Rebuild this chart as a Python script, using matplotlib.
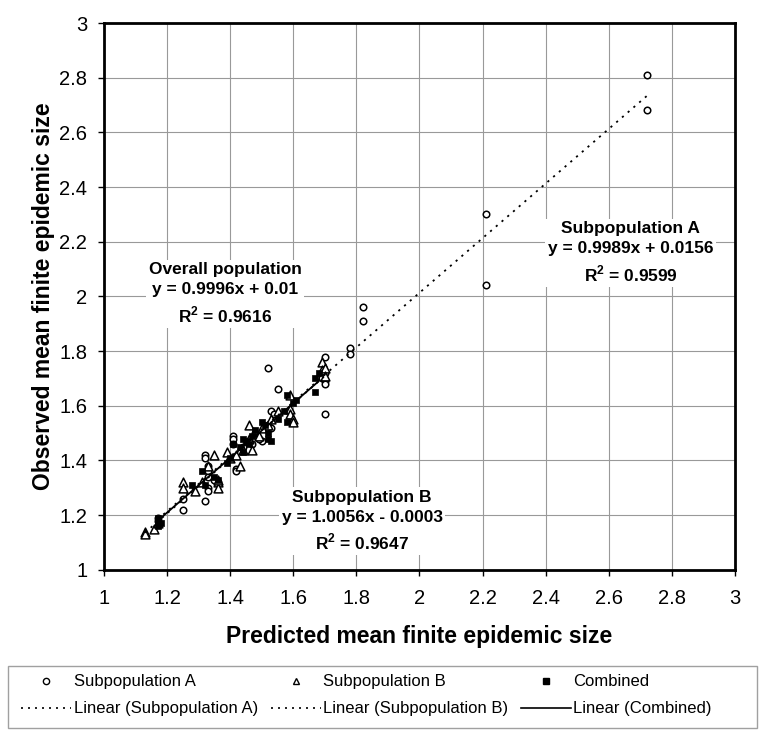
import numpy as np
import matplotlib
matplotlib.use('Agg')
import matplotlib.pyplot as plt
from matplotlib.lines import Line2D
from matplotlib.patches import Rectangle

plt.rcParams['font.family'] = ['Liberation Sans', 'DejaVu Sans']
plt.rcParams['mathtext.fontset'] = 'custom'
plt.rcParams['mathtext.rm'] = 'Liberation Sans'
plt.rcParams['mathtext.bf'] = 'Liberation Sans:bold'

# Subpopulation A (open circles)
a_x = [2.72, 2.72, 2.21, 2.21, 1.82, 1.82, 1.78, 1.78, 1.70, 1.70, 1.70, 1.70, 1.70, 1.69,
       1.52, 1.55, 1.53, 1.54, 1.52, 1.53, 1.50, 1.49, 1.47, 1.41, 1.41, 1.42, 1.32, 1.32,
       1.33, 1.33, 1.33, 1.33, 1.33, 1.32, 1.25, 1.25, 1.42, 1.41, 1.44, 1.46, 1.48, 1.36,
       1.35, 1.17, 1.17]
a_y = [2.81, 2.68, 2.30, 2.04, 1.96, 1.91, 1.81, 1.79, 1.78, 1.72, 1.69, 1.68, 1.57, 1.70,
       1.74, 1.66, 1.58, 1.57, 1.53, 1.52, 1.47, 1.48, 1.46, 1.49, 1.48, 1.37, 1.42, 1.41,
       1.38, 1.36, 1.34, 1.30, 1.29, 1.25, 1.26, 1.22, 1.36, 1.46, 1.45, 1.47, 1.50, 1.32,
       1.33, 1.18, 1.19]

# Subpopulation B (open triangles)
b_x = [1.13, 1.13, 1.16, 1.17, 1.25, 1.25, 1.29, 1.31, 1.35, 1.33, 1.36, 1.36, 1.36, 1.40,
       1.43, 1.44, 1.46, 1.46, 1.47, 1.52, 1.53, 1.59, 1.59, 1.60, 1.60, 1.59, 1.69, 1.69,
       1.70, 1.70, 1.49, 1.50, 1.39, 1.55, 1.42]
b_y = [1.14, 1.13, 1.15, 1.17, 1.32, 1.30, 1.29, 1.32, 1.42, 1.38, 1.32, 1.30, 1.33, 1.41,
       1.38, 1.44, 1.53, 1.48, 1.44, 1.53, 1.55, 1.59, 1.57, 1.55, 1.54, 1.64, 1.76, 1.73,
       1.74, 1.71, 1.49, 1.52, 1.43, 1.58, 1.42]

# Combined (filled squares)
c_x = [1.17, 1.17, 1.18, 1.17, 1.28, 1.31, 1.32, 1.35, 1.36, 1.40, 1.41, 1.43, 1.44, 1.45,
       1.47, 1.48, 1.50, 1.51, 1.52, 1.53, 1.52, 1.55, 1.57, 1.58, 1.58, 1.60, 1.61, 1.67,
       1.68, 1.67, 1.46, 1.44, 1.39]
c_y = [1.19, 1.18, 1.17, 1.16, 1.31, 1.36, 1.31, 1.34, 1.33, 1.41, 1.46, 1.45, 1.48, 1.47,
       1.49, 1.51, 1.54, 1.53, 1.48, 1.47, 1.50, 1.55, 1.58, 1.64, 1.54, 1.61, 1.62, 1.70,
       1.72, 1.65, 1.46, 1.43, 1.39]

# trendline coefficients (slope, intercept) as printed on the chart
fit_a = (0.9989, 0.0156)
fit_b = (1.0056, -0.0003)
fit_c = (0.9996, 0.01)

ticks = [1, 1.2, 1.4, 1.6, 1.8, 2, 2.2, 2.4, 2.6, 2.8, 3]
tick_labels = ['1', '1.2', '1.4', '1.6', '1.8', '2', '2.2', '2.4', '2.6', '2.8', '3']

fig = plt.figure(figsize=(7.68, 7.42), dpi=100)
ax = fig.add_axes([0.1354, 0.232, 0.8216, 0.737])

ax.grid(True, color='#999999', linewidth=0.8)
ax.set_axisbelow(True)

ax.scatter(a_x, a_y, s=22, marker='o', facecolors='white', edgecolors='black',
           linewidths=1.1, zorder=3)
ax.scatter(b_x, b_y, s=40, marker='^', facecolors='white', edgecolors='black',
           linewidths=1.1, zorder=3)
ax.scatter(c_x, c_y, s=22, marker='s', facecolors='black', edgecolors='black',
           linewidths=0.5, zorder=4)

def trend(xs, fit):
    xr = np.array([min(xs), max(xs)])
    return xr, fit[0] * xr + fit[1]

xa, ya = trend(a_x, fit_a)
xb, yb = trend(b_x, fit_b)
xc, yc = trend(c_x, fit_c)
ax.plot(xa, ya, color='black', linestyle=(0, (1.2, 3)), linewidth=1.3, zorder=5)
ax.plot(xb, yb, color='black', linestyle=(0, (1.2, 3)), linewidth=1.3, zorder=5)
ax.plot(xc, yc, color='black', linestyle='-', linewidth=1.3, zorder=5)

box = dict(facecolor='white', edgecolor='none', pad=2)
ax.text(1.384, 2.01, 'Overall population\ny = 0.9996x + 0.01\nR$^{\\bf 2}$ = 0.9616',
        ha='center', va='center', fontsize=12.5, fontweight='bold', linespacing=1.4,
        bbox=box, zorder=6)
ax.text(2.67, 2.16, 'Subpopulation A\ny = 0.9989x + 0.0156\nR$^{\\bf 2}$ = 0.9599',
        ha='center', va='center', fontsize=12.5, fontweight='bold', linespacing=1.4,
        bbox=box, zorder=6)
ax.text(1.818, 1.177, 'Subpopulation B\ny = 1.0056x - 0.0003\nR$^{\\bf 2}$ = 0.9647',
        ha='center', va='center', fontsize=12.5, fontweight='bold', linespacing=1.4,
        bbox=box, zorder=6)

ax.set_xlim(1, 3)
ax.set_ylim(1, 3)
ax.set_xticks(ticks)
ax.set_xticklabels(tick_labels)
ax.set_yticks(ticks)
ax.set_yticklabels(tick_labels)
ax.tick_params(direction='out', length=4, width=1, labelsize=14.5)
ax.tick_params(axis='x', pad=10)
ax.tick_params(axis='y', pad=8)
for sp in ax.spines.values():
    sp.set_linewidth(2)

ax.set_xlabel('Predicted mean finite epidemic size', fontsize=16.5, fontweight='bold', labelpad=12)
ax.set_ylabel('Observed mean finite epidemic size', fontsize=16.5, fontweight='bold', labelpad=3)

# legend frame drawn separately, wider than its contents
fig.patches.append(Rectangle((8 / 768, 1 - 728 / 742), 749 / 768, 62 / 742,
                             transform=fig.transFigure, facecolor='white',
                             edgecolor='#a0a0a0', linewidth=1, zorder=0))

handles = [
    Line2D([], [], marker='o', linestyle='none', markerfacecolor='white',
           markeredgecolor='black', markersize=4.5),
    Line2D([], [], color='black', linestyle=(0, (1.2, 3)), linewidth=1.2),
    Line2D([], [], marker='^', linestyle='none', markerfacecolor='white',
           markeredgecolor='black', markersize=5),
    Line2D([], [], color='black', linestyle=(0, (1.2, 3)), linewidth=1.2),
    Line2D([], [], marker='s', linestyle='none', markerfacecolor='black',
           markeredgecolor='black', markersize=4),
    Line2D([], [], color='black', linestyle='-', linewidth=1.2),
]
labels = ['Subpopulation A', 'Linear (Subpopulation A)',
          'Subpopulation B', 'Linear (Subpopulation B)',
          'Combined', 'Linear (Combined)']
leg = fig.legend(handles, labels, loc='upper left', ncol=3,
                 bbox_to_anchor=(18 / 768, 1 - 671 / 742),
                 fontsize=12, frameon=False,
                 handlelength=3.0, handletextpad=0.15, columnspacing=0.75,
                 borderaxespad=0, labelspacing=0.72, borderpad=0.2)

fig.savefig('out.png', dpi=100)
